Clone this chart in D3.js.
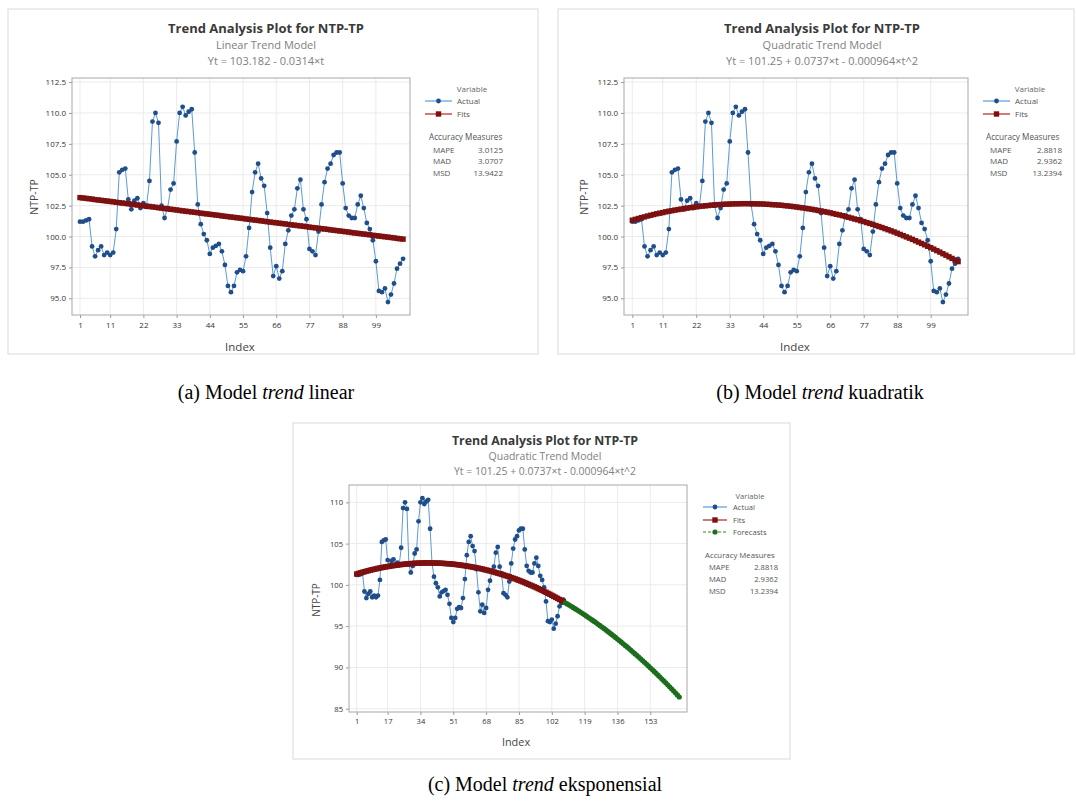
<!DOCTYPE html>
<meta charset="utf-8">
<script src="https://d3js.org/d3.v7.min.js"></script>
<style>
body { margin: 0; background: #fff; }
svg text { font-family: "Open Sans", "Noto Sans", sans-serif; }
svg text.caption { font-family: "Liberation Serif", "Times New Roman", serif; font-size: 20px; fill: #000; }
</style>
<body>
<script>

var actual = [
  101.2, 101.2, 101.3, 101.4, 99.2, 98.4, 98.9, 99.2, 98.5, 98.7,
  98.5, 98.7, 100.6, 105.2, 105.4, 105.5, 103.0, 102.2, 102.9, 103.1,
  102.3, 102.7, 102.4, 104.5, 109.3, 110.0, 109.2, 102.5, 101.5, 102.3,
  103.8, 104.3, 107.7, 110.0, 110.5, 109.8, 110.1, 110.3, 106.8, 102.6,
  101.0, 100.2, 99.7, 98.6, 99.1, 99.25, 99.4, 98.8, 97.7, 96.0,
  95.5, 96.0, 97.1, 97.3, 97.2, 98.4, 100.7, 103.6, 105.2, 105.9,
  104.7, 104.1, 101.9, 99.1, 96.8, 97.6, 96.6, 97.2, 99.4, 100.5,
  101.7, 102.2, 103.9, 104.6, 102.2, 101.4, 99.0, 98.8, 98.5, 100.4,
  102.6, 104.4, 105.5, 105.9, 106.6, 106.8, 106.8, 104.3, 102.3, 101.7,
  101.5, 101.5, 102.6, 103.3, 102.3, 101.1, 100.6, 99.7, 98.0, 95.6,
  95.5, 95.8, 94.7, 95.3, 96.2, 97.4, 97.8, 98.2
];

// fitted values, linear trend model (t = 1..108)
var linearFits = [
  103.15, 103.12, 103.09, 103.06, 103.03, 102.99, 102.96, 102.93, 102.90, 102.87,
  102.84, 102.81, 102.77, 102.74, 102.71, 102.68, 102.65, 102.62, 102.59, 102.55,
  102.52, 102.49, 102.46, 102.43, 102.40, 102.37, 102.33, 102.30, 102.27, 102.24,
  102.21, 102.18, 102.15, 102.11, 102.08, 102.05, 102.02, 101.99, 101.96, 101.93,
  101.89, 101.86, 101.83, 101.80, 101.77, 101.74, 101.71, 101.67, 101.64, 101.61,
  101.58, 101.55, 101.52, 101.49, 101.46, 101.42, 101.39, 101.36, 101.33, 101.30,
  101.27, 101.24, 101.20, 101.17, 101.14, 101.11, 101.08, 101.05, 101.02, 100.98,
  100.95, 100.92, 100.89, 100.86, 100.83, 100.80, 100.76, 100.73, 100.70, 100.67,
  100.64, 100.61, 100.58, 100.54, 100.51, 100.48, 100.45, 100.42, 100.39, 100.36,
  100.32, 100.29, 100.26, 100.23, 100.20, 100.17, 100.14, 100.10, 100.07, 100.04,
  100.01, 99.98, 99.95, 99.92, 99.89, 99.85, 99.82, 99.79
];

// fitted values, quadratic trend model (t = 1..108)
var quadFits = [
  101.32, 101.39, 101.46, 101.53, 101.59, 101.66, 101.72, 101.78, 101.84, 101.89,
  101.94, 102.00, 102.05, 102.09, 102.14, 102.18, 102.22, 102.26, 102.30, 102.34,
  102.37, 102.40, 102.44, 102.46, 102.49, 102.51, 102.54, 102.56, 102.58, 102.59,
  102.61, 102.62, 102.63, 102.64, 102.65, 102.65, 102.66, 102.66, 102.66, 102.66,
  102.65, 102.64, 102.64, 102.63, 102.61, 102.60, 102.58, 102.57, 102.55, 102.53,
  102.50, 102.48, 102.45, 102.42, 102.39, 102.35, 102.32, 102.28, 102.24, 102.20,
  102.16, 102.11, 102.07, 102.02, 101.97, 101.92, 101.86, 101.80, 101.75, 101.69,
  101.62, 101.56, 101.49, 101.42, 101.36, 101.28, 101.21, 101.13, 101.06, 100.98,
  100.89, 100.81, 100.73, 100.64, 100.55, 100.46, 100.37, 100.27, 100.17, 100.07,
  99.97, 99.87, 99.77, 99.66, 99.55, 99.44, 99.33, 99.21, 99.10, 98.98,
  98.86, 98.74, 98.61, 98.49, 98.36, 98.23, 98.10, 97.97
];

// forecasts, quadratic trend model (t = 109..168)
var forecasts = [
  97.83, 97.69, 97.55, 97.41, 97.27, 97.12, 96.98, 96.83, 96.68, 96.52,
  96.37, 96.21, 96.05, 95.89, 95.73, 95.57, 95.40, 95.23, 95.06, 94.89,
  94.72, 94.54, 94.36, 94.18, 94.00, 93.82, 93.63, 93.44, 93.25, 93.06,
  92.87, 92.67, 92.48, 92.28, 92.08, 91.87, 91.67, 91.46, 91.25, 91.04,
  90.83, 90.62, 90.40, 90.18, 89.96, 89.74, 89.51, 89.29, 89.06, 88.83,
  88.60, 88.36, 88.13, 87.89, 87.65, 87.41, 87.17, 86.92, 86.67, 86.42
];

var xTicksAB = [1, 11, 22, 33, 44, 55, 66, 77, 88, 99];
var xTicksC = [1, 17, 34, 51, 68, 85, 102, 119, 136, 153];
var yTicksAB = [95, 97.5, 100, 102.5, 105, 107.5, 110, 112.5];
var yTicksC = [85, 90, 95, 100, 105, 110];

var measureNames = ["MAPE", "MAD", "MSD"];
var accLinear = ["3.0125", "3.0707", "13.9422"];
var accQuad = ["2.8818", "2.9362", "13.2394"];

var width = 1076, height = 801;

var svg = d3.select("body").append("svg")
    .attr("width", width)
    .attr("height", height);

svg.append("rect").attr("width", width).attr("height", height).attr("fill", "#fff");

var styles = {
  Actual:    {line: "#5b9bd5", lw: 1, mark: "#1f4e8a", shape: "circle", r: 2.4},
  Fits:      {line: "#b22222", lw: 2, mark: "#7d1010", shape: "square", r: 2.7},
  Forecasts: {line: "#2e8b2e", lw: 2, mark: "#1c6e1c", shape: "circle", r: 2.6, dash: "3,2"}
};

function drawMarks(g, pts, st) {
  if (st.shape == "square") {
    g.append("g").selectAll("rect")
      .data(pts).enter().append("rect")
      .attr("x", d => d[0] - st.r).attr("y", d => d[1] - st.r)
      .attr("width", st.r * 2).attr("height", st.r * 2)
      .attr("fill", st.mark);
  } else {
    g.append("g").selectAll("circle")
      .data(pts).enter().append("circle")
      .attr("cx", d => d[0]).attr("cy", d => d[1])
      .attr("r", st.r)
      .attr("fill", st.mark);
  }
}

function drawSeries(g, x, y, vals, start, st) {
  var pts = vals.map(function(v, i) { return [x(start + i), y(v)]; });
  g.append("path")
    .attr("d", d3.line()(pts))
    .attr("fill", "none")
    .attr("stroke", st.line)
    .attr("stroke-width", st.lw);
  drawMarks(g, pts, st);
}

function drawPanel(c) {
  var g = svg.append("g");
  var p = c.plot;

  g.append("rect")
    .attr("x", c.box[0]).attr("y", c.box[1])
    .attr("width", c.box[2] - c.box[0]).attr("height", c.box[3] - c.box[1])
    .attr("fill", "#fff").attr("stroke", "#dadada");

  var x = d3.scaleLinear().domain(c.xDomain).range([p.l, p.r]);
  var y = d3.scaleLinear().domain(c.yDomain).range([p.b, p.t]);

  // gridlines
  g.append("g").selectAll("line").data(c.xTicks).enter().append("line")
    .attr("x1", d => x(d)).attr("x2", d => x(d))
    .attr("y1", p.t).attr("y2", p.b)
    .attr("stroke", "#ebebeb");
  g.append("g").selectAll("line").data(c.yTicks).enter().append("line")
    .attr("y1", d => y(d)).attr("y2", d => y(d))
    .attr("x1", p.l).attr("x2", p.r)
    .attr("stroke", "#ebebeb");

  // axes
  var xa = g.append("g").attr("transform", "translate(0," + p.b + ")")
    .call(d3.axisBottom(x).tickValues(c.xTicks).tickSize(3).tickPadding(4).tickFormat(d3.format("d")));
  var ya = g.append("g").attr("transform", "translate(" + p.l + ",0)")
    .call(d3.axisLeft(y).tickValues(c.yTicks).tickSize(3).tickPadding(3).tickFormat(d3.format(c.yFmt)));
  [xa, ya].forEach(function(a) {
    a.select(".domain").remove();
    a.selectAll("line").attr("stroke", "#999");
    a.selectAll("text").attr("fill", "#333").style("font-size", c.fs * 8 + "px")
      .style("font-family", '"Open Sans", sans-serif');
  });

  g.append("rect")
    .attr("x", p.l).attr("y", p.t)
    .attr("width", p.r - p.l).attr("height", p.b - p.t)
    .attr("fill", "none").attr("stroke", "#a8a8a8");

  // data
  c.series.forEach(function(s) {
    drawSeries(g, x, y, s.values, s.start, styles[s.name]);
  });

  // titles
  g.append("text").attr("x", c.titleX).attr("y", c.titleY[0])
    .attr("text-anchor", "middle").attr("fill", "#3a3a3a")
    .style("font-size", c.fs * 13 + "px").style("font-weight", "bold")
    .text("Trend Analysis Plot for NTP-TP");
  g.append("text").attr("x", c.titleX).attr("y", c.titleY[1])
    .attr("text-anchor", "middle").attr("fill", "#808080")
    .style("font-size", c.fs * 11 + "px")
    .text(c.model);
  g.append("text").attr("x", c.titleX).attr("y", c.titleY[2])
    .attr("text-anchor", "middle").attr("fill", "#808080")
    .style("font-size", c.fs * 11 + "px")
    .text(c.equation);

  // axis titles
  g.append("text").attr("x", c.xLab[0]).attr("y", c.xLab[1])
    .attr("text-anchor", "middle").attr("fill", "#444")
    .style("font-size", c.fs * 11.5 + "px")
    .text("Index");
  g.append("text")
    .attr("transform", "translate(" + c.yLab[0] + "," + c.yLab[1] + ") rotate(-90)")
    .attr("text-anchor", "middle").attr("fill", "#444")
    .style("font-size", c.fs * 10.5 + "px")
    .text("NTP-TP");

  // legend
  var L = c.legend;
  g.append("text").attr("x", L.varX).attr("y", L.varY)
    .attr("text-anchor", "middle").attr("fill", "#666")
    .style("font-size", c.fs * 8 + "px").text("Variable");
  c.series.forEach(function(s, i) {
    var st = styles[s.name], ly = L.rowsY[i];
    g.append("line")
      .attr("x1", L.x0).attr("x2", L.x1).attr("y1", ly).attr("y2", ly)
      .attr("stroke", st.line).attr("stroke-width", 1.2)
      .attr("stroke-dasharray", st.dash || null);
    drawMarks(g, [[(L.x0 + L.x1) / 2, ly]], st);
    g.append("text").attr("x", L.textX).attr("y", ly + 3)
      .attr("fill", "#555").style("font-size", c.fs * 8 + "px").text(s.name);
  });

  var A = c.acc;
  g.append("text").attr("x", A.headX).attr("y", A.headY)
    .attr("fill", "#555").style("font-size", c.fs * 8.2 + "px").text("Accuracy Measures");
  measureNames.forEach(function(m, i) {
    g.append("text").attr("x", A.labelX).attr("y", A.rowsY[i])
      .attr("fill", "#555").style("font-size", c.fs * 8 + "px").text(m);
    g.append("text").attr("x", A.valX).attr("y", A.rowsY[i])
      .attr("text-anchor", "end")
      .attr("fill", "#555").style("font-size", c.fs * 8 + "px").text(c.accuracy[i]);
  });
}

drawPanel({
  box: [8, 9, 538, 354],
  plot: {l: 72, r: 410, t: 78, b: 315},
  xDomain: [-1.65, 110.3], yDomain: [93.65, 112.83],
  xTicks: xTicksAB, yTicks: yTicksAB, yFmt: ".1f", fs: 1,
  titleX: 266, titleY: [33, 49, 65],
  model: "Linear Trend Model",
  equation: "Yt = 103.182 - 0.0314×t",
  xLab: [240, 351], yLab: [38, 197],
  series: [
    {name: "Actual", values: actual, start: 1},
    {name: "Fits", values: linearFits, start: 1}
  ],
  legend: {varX: 472, varY: 92, x0: 425, x1: 452, textX: 457, rowsY: [101, 114]},
  acc: {headX: 429, headY: 140, labelX: 433, valX: 503, rowsY: [152.5, 164, 175.5]},
  accuracy: accLinear
});

drawPanel({
  box: [558, 9, 1074, 354],
  plot: {l: 624, r: 968, t: 78, b: 315},
  xDomain: [-1.73, 111.25], yDomain: [93.65, 112.83],
  xTicks: xTicksAB, yTicks: yTicksAB, yFmt: ".1f", fs: 1,
  titleX: 822, titleY: [33, 49, 65],
  model: "Quadratic Trend Model",
  equation: "Yt = 101.25 + 0.0737×t - 0.000964×t^2",
  xLab: [795, 351], yLab: [588, 197],
  series: [
    {name: "Actual", values: actual, start: 1},
    {name: "Fits", values: quadFits, start: 1}
  ],
  legend: {varX: 1030, varY: 92, x0: 983, x1: 1010, textX: 1015, rowsY: [101, 114]},
  acc: {headX: 986, headY: 140, labelX: 990, valX: 1062, rowsY: [152.5, 164, 175.5]},
  accuracy: accQuad
});

drawPanel({
  box: [293, 423, 790, 759],
  plot: {l: 349, r: 687, t: 485, b: 712},
  xDomain: [-3, 172], yDomain: [84.6, 112.1],
  xTicks: xTicksC, yTicks: yTicksC, yFmt: "d", fs: 0.95,
  titleX: 545, titleY: [445, 460, 475],
  model: "Quadratic Trend Model",
  equation: "Yt = 101.25 + 0.0737×t - 0.000964×t^2",
  xLab: [516, 746], yLab: [320, 600],
  series: [
    {name: "Actual", values: actual, start: 1},
    {name: "Fits", values: quadFits, start: 1},
    {name: "Forecasts", values: forecasts, start: 109}
  ],
  legend: {varX: 750, varY: 499, x0: 703, x1: 727, textX: 733, rowsY: [507, 520, 532]},
  acc: {headX: 705, headY: 558, labelX: 709, valX: 778, rowsY: [570, 582, 594]},
  accuracy: accQuad
});

// figure captions
var captions = [
  {x: 266, y: 399, pre: "(a) Model ", it: "trend", post: " linear"},
  {x: 820, y: 399, pre: "(b) Model ", it: "trend", post: " kuadratik"},
  {x: 545, y: 791, pre: "(c) Model ", it: "trend", post: " eksponensial"}
];
captions.forEach(function(cp) {
  var t = svg.append("text").attr("class", "caption")
    .attr("x", cp.x).attr("y", cp.y).attr("text-anchor", "middle");
  t.append("tspan").text(cp.pre);
  t.append("tspan").style("font-style", "italic").text(cp.it);
  t.append("tspan").text(cp.post);
});

</script>
</body>
